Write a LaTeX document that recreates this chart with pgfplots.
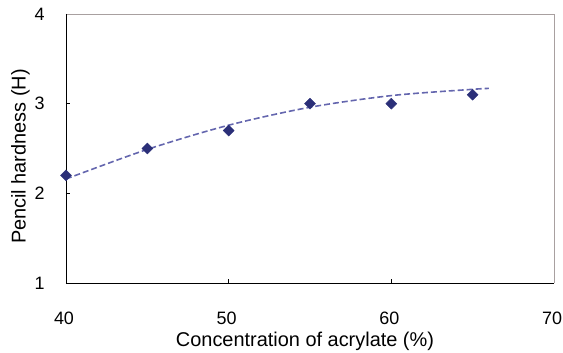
\documentclass[border=0pt]{standalone}
\usepackage{pgfplots}
\pgfplotsset{compat=1.18}
\usepackage{fontspec}
\setmainfont{Liberation Sans}
\definecolor{navy}{HTML}{2B2F78}
\definecolor{trend}{HTML}{6466AE}
\definecolor{spine}{HTML}{A8A0A0}
\begin{document}
\begin{tikzpicture}
\begin{axis}[
  scale only axis,
  width=488bp, height=269bp,
  xmin=40, xmax=70, ymin=1, ymax=4,
  xtick={40,50,60,70}, ytick={1,2,3,4},
  axis line style={draw=none},
  tick align=inside,
  xtick pos=bottom, ytick pos=left,
  major tick length=4bp,
  tick style={black, line width=0.6pt},
  /pgf/number format/assume math mode=true,
  ticklabel style={font=\fontsize{18}{18}\selectfont},
  xticklabel style={yshift=-25bp, xshift=-2bp},
  yticklabel style={xshift=-18bp},
  xlabel={Concentration of acrylate (\%)},
  ylabel={Pencil hardness (H)},
  label style={font=\fontsize{20}{20}\selectfont},
  xlabel style={yshift=-1bp, xshift=-5bp},
  ylabel style={yshift=-2bp, xshift=-8bp},
  clip=false,
]
\draw[spine, line width=0.8pt] (rel axis cs:0,1) -- (rel axis cs:1,1) -- (rel axis cs:1,0);
\draw[black, line width=0.8pt] (rel axis cs:0,1) -- (rel axis cs:0,0) -- (rel axis cs:1,0);
\addplot[trend, line width=1.6pt, smooth, dash pattern=on 6pt off 3pt] coordinates {
 (40,2.16) (45,2.49) (50,2.76) (55,2.96) (60,3.09) (65,3.16) (66,3.17)
};
\addplot[only marks, mark=square*, mark size=3.9pt, navy, mark options={rotate=45, fill=navy, draw=navy}] coordinates {
 (40,2.2) (45,2.5) (50,2.7) (55,3.0) (60,3.0) (65,3.1)
};
\end{axis}
\pgfresetboundingbox
\path ([shift={(-66bp,-70bp)}]current axis.south west) rectangle ([shift={(9bp,14bp)}]current axis.north east);
\end{tikzpicture}
\end{document}
